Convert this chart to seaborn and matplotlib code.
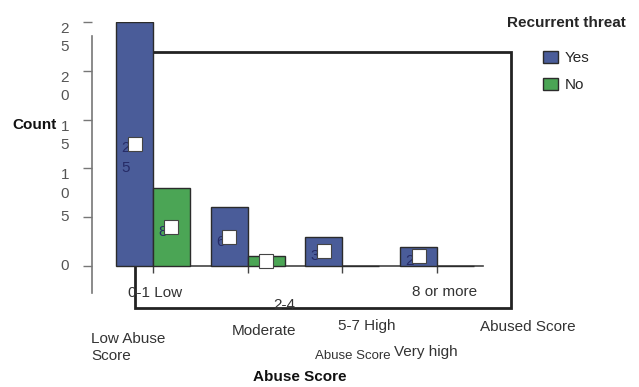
import matplotlib
matplotlib.use('Agg')
import matplotlib.pyplot as plt
import seaborn as sns
import pandas as pd
from matplotlib.patches import Rectangle

# ---- data ----
categories = ["0-1 Low", "2-4 Moderate", "5-7 High", "8 or more Very high"]
hue_levels = ["Yes", "No"]
yes_counts = [25, 6, 3, 2]
no_counts = [8, 1, 0, 0]
y_ticks = [0, 5, 10, 15, 20, 25]
y_tick_labels = ["0", "5", "1\n0", "1\n5", "2\n0", "2\n5"]
bar_value_labels = {"Yes": ["2\n5", "6", "3", "2"], "No": ["8", "", "", ""]}
# category label fragments as they appear under the chart
cat_label_texts = ["0-1 Low", "2-4", "8 or more", "Low Abuse\nScore", "Moderate",
                   "5-7 High", "Abuse Score", "Very high", "Abused Score"]
legend_title = "Recurrent threat"
x_title = "Abuse Score"
y_title = "Count"

palette = {"Yes": "#3d55a6", "No": "#3cb449"}

sns.set_theme(style="white")
plt.rcParams['font.family'] = ['Liberation Sans', 'DejaVu Sans']

W, H = 639, 387
fig = plt.figure(figsize=(W / 100, H / 100), dpi=100)
ax = fig.add_axes([92 / W, 1 - 308 / H, (511 - 92) / W, (308 - 22) / H])

df = pd.DataFrame({
    "Abuse Score": categories * 2,
    "Count": yes_counts + no_counts,
    "Recurrent threat": ["Yes"] * len(categories) + ["No"] * len(categories),
})

sns.barplot(data=df, x="Abuse Score", y="Count", hue="Recurrent threat",
            hue_order=hue_levels, palette=palette, width=0.78,
            edgecolor="#2b2b2b", linewidth=1, ax=ax, zorder=3, errorbar=None)

# white label boxes with partly hidden value labels
for cont, level in zip(ax.containers, hue_levels):
    for bar, lab in zip(cont, bar_value_labels[level]):
        h = bar.get_height()
        if h <= 0:
            continue
        xc = bar.get_x() + bar.get_width() / 2
        ax.plot(xc, h / 2, marker='s', ms=10.5, mfc='white', mec='#444444',
                mew=0.8, zorder=6, clip_on=False)
        if lab:
            if "\n" in lab:
                ax.annotate(lab, (xc, h / 2), xytext=(-9, 3), textcoords='offset pixels',
                            ha='center', va='top', fontsize=11, color='#262b66',
                            linespacing=1.5, zorder=5)
            else:
                ax.annotate(lab, (xc, h / 2), xytext=(-9, -5), textcoords='offset pixels',
                            ha='center', va='center', fontsize=11, color='#262b66',
                            zorder=5)

ax.set_ylim(-4.3, 25)
ax.set_xlim(-0.644, 3.78)

# spines
ax.spines['top'].set_visible(False)
ax.spines['right'].set_visible(False)
ax.spines['left'].set_bounds(-2.77, 23.57)
ax.spines['left'].set_color('#777777')
ax.spines['left'].set_linewidth(1.2)
ax.spines['bottom'].set_position(('data', 0))
ax.spines['bottom'].set_bounds(-0.19, 3.485)
ax.spines['bottom'].set_color('#444444')
ax.spines['bottom'].set_linewidth(1.2)

ax.set_yticks(y_ticks)
ax.set_yticklabels(y_tick_labels, linespacing=1.4)
for lbl in ax.get_yticklabels():
    lbl.set_va('top' if "\n" in lbl.get_text() else 'center')
ax.tick_params(axis='y', left=True, direction='out', length=6.5, width=1,
               color='#777777', pad=10, labelsize=11, labelcolor='#555555')
ax.set_xticks(range(len(categories)))
ax.set_xticklabels([""] * len(categories))
ax.tick_params(axis='x', bottom=True, direction='out', length=5, width=1,
               color='#444444')

# outer box
ax.add_patch(Rectangle((0.1026, 0), 0.8974, 0.895, transform=ax.transAxes,
                       fill=False, lw=2, ec='#222222', clip_on=False, zorder=1))

# axis titles
ax.set_ylabel(y_title, rotation=0, fontweight='bold', fontsize=11, color='#111111')
ax.yaxis.set_label_coords(-0.138, 0.640)
ax.yaxis.label.set(ha='center', va='center')
ax.set_xlabel(x_title, fontweight='bold', fontsize=11, color='#111111')
ax.xaxis.set_label_coords(0.496, -0.241)
ax.xaxis.label.set(ha='center', va='center')

# scattered category labels
label_pos = [(128, 293, 11, 'left', 'center'), (284, 305, 11, 'center', 'center'),
             (445, 292, 11, 'center', 'center'), (91, 332, 11, 'left', 'top'),
             (264, 331, 11, 'center', 'center'), (367, 326, 11, 'center', 'center'),
             (353, 356, 9.5, 'center', 'center'), (426, 352, 11, 'center', 'center'),
             (528, 327, 11, 'center', 'center')]
for txt, (px, py, fs, ha, va) in zip(cat_label_texts, label_pos):
    fig.text(px / W, 1 - py / H, txt, ha=ha, va=va, fontsize=fs, color='#333333',
             linespacing=1.25)

# legend
handles, labels = ax.get_legend_handles_labels()
leg = ax.legend(handles, labels, title=legend_title, loc='upper center',
                bbox_to_anchor=(566 / W, 1 - 16 / H), bbox_transform=fig.transFigure,
                frameon=False, fontsize=11,
                title_fontproperties={'weight': 'bold', 'size': 11},
                handlelength=1.0, handleheight=0.85, handletextpad=0.45,
                labelspacing=0.81, borderpad=0, borderaxespad=0)
leg._legend_box.sep = 15.2

fig.savefig('out.png', dpi=100)
